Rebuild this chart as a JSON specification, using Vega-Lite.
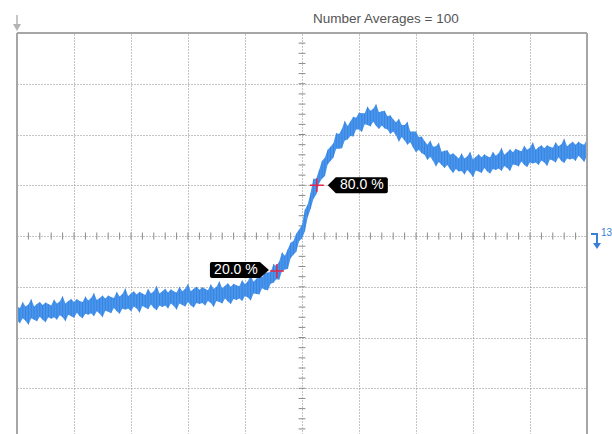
{
  "$schema": "https://vega.github.io/schema/vega-lite/v6.json",
  "width": 570,
  "height": 401,
  "autosize": {"type": "none"},
  "padding": {"left": 17, "top": 33, "right": 25, "bottom": 0},
  "background": "white",
  "config": {"view": {"stroke": null}},
  "datasets": {
    "trace": [
      {"x":0.00,"lo":-1.66,"hi":-1.39},{"x":0.05,"lo":-1.72,"hi":-1.42},{"x":0.10,"lo":-1.62,"hi":-1.30},{"x":0.15,"lo":-1.67,"hi":-1.39},{"x":0.20,"lo":-1.75,"hi":-1.35},
      {"x":0.25,"lo":-1.62,"hi":-1.24},{"x":0.30,"lo":-1.65,"hi":-1.39},{"x":0.35,"lo":-1.68,"hi":-1.34},{"x":0.40,"lo":-1.59,"hi":-1.30},{"x":0.45,"lo":-1.65,"hi":-1.36},
      {"x":0.50,"lo":-1.70,"hi":-1.31},{"x":0.55,"lo":-1.60,"hi":-1.34},{"x":0.60,"lo":-1.63,"hi":-1.37},{"x":0.65,"lo":-1.60,"hi":-1.25},{"x":0.70,"lo":-1.65,"hi":-1.33},
      {"x":0.75,"lo":-1.56,"hi":-1.29},{"x":0.80,"lo":-1.60,"hi":-1.18},{"x":0.85,"lo":-1.68,"hi":-1.33},{"x":0.90,"lo":-1.55,"hi":-1.28},{"x":0.95,"lo":-1.58,"hi":-1.24},
      {"x":1.00,"lo":-1.61,"hi":-1.30},{"x":1.05,"lo":-1.51,"hi":-1.24},{"x":1.10,"lo":-1.58,"hi":-1.28},{"x":1.15,"lo":-1.62,"hi":-1.30},{"x":1.20,"lo":-1.53,"hi":-1.19},
      {"x":1.25,"lo":-1.55,"hi":-1.27},{"x":1.30,"lo":-1.52,"hi":-1.22},{"x":1.35,"lo":-1.58,"hi":-1.12},{"x":1.40,"lo":-1.48,"hi":-1.26},{"x":1.45,"lo":-1.53,"hi":-1.22},
      {"x":1.50,"lo":-1.60,"hi":-1.17},{"x":1.55,"lo":-1.47,"hi":-1.23},{"x":1.60,"lo":-1.49,"hi":-1.17},{"x":1.65,"lo":-1.52,"hi":-1.20},{"x":1.70,"lo":-1.42,"hi":-1.22},
      {"x":1.75,"lo":-1.48,"hi":-1.10},{"x":1.80,"lo":-1.53,"hi":-1.19},{"x":1.85,"lo":-1.43,"hi":-1.14},{"x":1.90,"lo":-1.45,"hi":-1.03},{"x":1.95,"lo":-1.43,"hi":-1.18},
      {"x":2.00,"lo":-1.48,"hi":-1.13},{"x":2.05,"lo":-1.39,"hi":-1.09},{"x":2.10,"lo":-1.43,"hi":-1.15},{"x":2.15,"lo":-1.51,"hi":-1.10},{"x":2.20,"lo":-1.38,"hi":-1.13},
      {"x":2.25,"lo":-1.41,"hi":-1.16},{"x":2.30,"lo":-1.44,"hi":-1.04},{"x":2.35,"lo":-1.35,"hi":-1.13},{"x":2.40,"lo":-1.42,"hi":-1.09},{"x":2.45,"lo":-1.46,"hi":-0.98},
      {"x":2.50,"lo":-1.37,"hi":-1.13},{"x":2.55,"lo":-1.40,"hi":-1.09},{"x":2.60,"lo":-1.37,"hi":-1.04},{"x":2.65,"lo":-1.43,"hi":-1.11},{"x":2.70,"lo":-1.33,"hi":-1.05},
      {"x":2.75,"lo":-1.38,"hi":-1.09},{"x":2.80,"lo":-1.45,"hi":-1.11},{"x":2.85,"lo":-1.33,"hi":-1.00},{"x":2.90,"lo":-1.36,"hi":-1.09},{"x":2.95,"lo":-1.39,"hi":-1.04},
      {"x":3.00,"lo":-1.30,"hi":-0.94},{"x":3.05,"lo":-1.37,"hi":-1.09},{"x":3.10,"lo":-1.41,"hi":-1.04},{"x":3.15,"lo":-1.32,"hi":-1.00},{"x":3.20,"lo":-1.34,"hi":-1.06},
      {"x":3.25,"lo":-1.32,"hi":-1.01},{"x":3.30,"lo":-1.37,"hi":-1.04},{"x":3.35,"lo":-1.28,"hi":-1.07},{"x":3.40,"lo":-1.32,"hi":-0.95},{"x":3.45,"lo":-1.40,"hi":-1.04},
      {"x":3.50,"lo":-1.28,"hi":-1.00},{"x":3.55,"lo":-1.30,"hi":-0.89},{"x":3.60,"lo":-1.33,"hi":-1.03},{"x":3.65,"lo":-1.23,"hi":-0.98},{"x":3.70,"lo":-1.29,"hi":-0.93},
      {"x":3.75,"lo":-1.34,"hi":-1.00},{"x":3.80,"lo":-1.24,"hi":-0.94},{"x":3.85,"lo":-1.26,"hi":-0.97},{"x":3.90,"lo":-1.23,"hi":-0.99},{"x":3.95,"lo":-1.28,"hi":-0.87},
      {"x":4.00,"lo":-1.18,"hi":-0.95},{"x":4.05,"lo":-1.21,"hi":-0.89},{"x":4.10,"lo":-1.27,"hi":-0.77},{"x":4.15,"lo":-1.13,"hi":-0.90},{"x":4.20,"lo":-1.14,"hi":-0.84},
      {"x":4.25,"lo":-1.15,"hi":-0.77},{"x":4.30,"lo":-1.03,"hi":-0.81},{"x":4.35,"lo":-1.06,"hi":-0.72},{"x":4.40,"lo":-1.07,"hi":-0.72},{"x":4.45,"lo":-0.94,"hi":-0.71},
      {"x":4.50,"lo":-0.92,"hi":-0.55},{"x":4.55,"lo":-0.85,"hi":-0.59},{"x":4.60,"lo":-0.86,"hi":-0.50},{"x":4.65,"lo":-0.69,"hi":-0.32},{"x":4.70,"lo":-0.66,"hi":-0.39},
      {"x":4.75,"lo":-0.65,"hi":-0.26},{"x":4.80,"lo":-0.44,"hi":-0.13},{"x":4.85,"lo":-0.37,"hi":-0.10},{"x":4.90,"lo":-0.31,"hi":0.05},{"x":4.95,"lo":-0.10,"hi":0.13},
      {"x":5.00,"lo":-0.05,"hi":0.22},{"x":5.05,"lo":0.09,"hi":0.52},{"x":5.10,"lo":0.37,"hi":0.62},{"x":5.15,"lo":0.53,"hi":0.85},{"x":5.20,"lo":0.73,"hi":1.13},
      {"x":5.25,"lo":0.82,"hi":1.13},{"x":5.30,"lo":1.04,"hi":1.30},{"x":5.35,"lo":1.13,"hi":1.48},{"x":5.40,"lo":1.18,"hi":1.54},{"x":5.45,"lo":1.41,"hi":1.70},
      {"x":5.50,"lo":1.48,"hi":1.76},{"x":5.55,"lo":1.54,"hi":1.83},{"x":5.60,"lo":1.72,"hi":2.03},{"x":5.65,"lo":1.72,"hi":2.01},{"x":5.70,"lo":1.73,"hi":2.11},
      {"x":5.75,"lo":1.88,"hi":2.27},{"x":5.80,"lo":1.90,"hi":2.17},{"x":5.85,"lo":1.97,"hi":2.26},{"x":5.90,"lo":1.96,"hi":2.35},{"x":5.95,"lo":2.10,"hi":2.33},
      {"x":6.00,"lo":2.10,"hi":2.43},{"x":6.05,"lo":2.05,"hi":2.42},{"x":6.10,"lo":2.20,"hi":2.42},{"x":6.15,"lo":2.19,"hi":2.55},{"x":6.20,"lo":2.16,"hi":2.47},
      {"x":6.25,"lo":2.25,"hi":2.51},{"x":6.30,"lo":2.17,"hi":2.60},{"x":6.35,"lo":2.11,"hi":2.44},{"x":6.40,"lo":2.18,"hi":2.46},{"x":6.45,"lo":2.12,"hi":2.47},
      {"x":6.50,"lo":2.10,"hi":2.36},{"x":6.55,"lo":2.01,"hi":2.38},{"x":6.60,"lo":2.06,"hi":2.30},{"x":6.65,"lo":1.98,"hi":2.24},{"x":6.70,"lo":1.86,"hi":2.31},
      {"x":6.75,"lo":1.95,"hi":2.19},{"x":6.80,"lo":1.88,"hi":2.19},{"x":6.85,"lo":1.80,"hi":2.25},{"x":6.90,"lo":1.85,"hi":2.06},{"x":6.95,"lo":1.74,"hi":2.06},
      {"x":7.00,"lo":1.65,"hi":2.06},{"x":7.05,"lo":1.70,"hi":1.95},{"x":7.10,"lo":1.63,"hi":1.96},{"x":7.15,"lo":1.60,"hi":1.87},{"x":7.20,"lo":1.50,"hi":1.80},
      {"x":7.25,"lo":1.56,"hi":1.88},{"x":7.30,"lo":1.48,"hi":1.76},{"x":7.35,"lo":1.37,"hi":1.77},{"x":7.40,"lo":1.46,"hi":1.84},{"x":7.45,"lo":1.40,"hi":1.66},
      {"x":7.50,"lo":1.34,"hi":1.68},{"x":7.55,"lo":1.40,"hi":1.69},{"x":7.60,"lo":1.31,"hi":1.60},{"x":7.65,"lo":1.24,"hi":1.63},{"x":7.70,"lo":1.32,"hi":1.58},
      {"x":7.75,"lo":1.27,"hi":1.53},{"x":7.80,"lo":1.28,"hi":1.63},{"x":7.85,"lo":1.21,"hi":1.53},{"x":7.90,"lo":1.30,"hi":1.57},{"x":7.95,"lo":1.24,"hi":1.66},
      {"x":8.00,"lo":1.16,"hi":1.51},{"x":8.05,"lo":1.29,"hi":1.56},{"x":8.10,"lo":1.27,"hi":1.61},{"x":8.15,"lo":1.24,"hi":1.55},{"x":8.20,"lo":1.34,"hi":1.61},
      {"x":8.25,"lo":1.27,"hi":1.57},{"x":8.30,"lo":1.23,"hi":1.55},{"x":8.35,"lo":1.32,"hi":1.66},{"x":8.40,"lo":1.30,"hi":1.58},{"x":8.45,"lo":1.33,"hi":1.63},
      {"x":8.50,"lo":1.28,"hi":1.74},{"x":8.55,"lo":1.38,"hi":1.60},{"x":8.60,"lo":1.34,"hi":1.65},{"x":8.65,"lo":1.28,"hi":1.71},{"x":8.70,"lo":1.41,"hi":1.65},
      {"x":8.75,"lo":1.40,"hi":1.72},{"x":8.80,"lo":1.37,"hi":1.69},{"x":8.85,"lo":1.47,"hi":1.67},{"x":8.90,"lo":1.40,"hi":1.78},{"x":8.95,"lo":1.36,"hi":1.70},
      {"x":9.00,"lo":1.45,"hi":1.74},{"x":9.05,"lo":1.43,"hi":1.85},{"x":9.10,"lo":1.45,"hi":1.70},{"x":9.15,"lo":1.40,"hi":1.75},{"x":9.20,"lo":1.49,"hi":1.79},
      {"x":9.25,"lo":1.45,"hi":1.73},{"x":9.30,"lo":1.38,"hi":1.79},{"x":9.35,"lo":1.51,"hi":1.76},{"x":9.40,"lo":1.49,"hi":1.74},{"x":9.45,"lo":1.45,"hi":1.85},
      {"x":9.50,"lo":1.55,"hi":1.77},{"x":9.55,"lo":1.48,"hi":1.81},{"x":9.60,"lo":1.44,"hi":1.92},{"x":9.65,"lo":1.53,"hi":1.77},{"x":9.70,"lo":1.51,"hi":1.82},
      {"x":9.75,"lo":1.53,"hi":1.86},{"x":9.80,"lo":1.48,"hi":1.80},{"x":9.85,"lo":1.58,"hi":1.86},{"x":9.90,"lo":1.53,"hi":1.82},{"x":9.95,"lo":1.46,"hi":1.80},
      {"x":10.00,"lo":1.58,"hi":1.91}
    ],
    "xt": [
      {"t":0.2},{"t":0.4},{"t":0.6},{"t":0.8},{"t":1.0},{"t":1.2},{"t":1.4},{"t":1.6},{"t":1.8},{"t":2.0},
      {"t":2.2},{"t":2.4},{"t":2.6},{"t":2.8},{"t":3.0},{"t":3.2},{"t":3.4},{"t":3.6},{"t":3.8},{"t":4.0},
      {"t":4.2},{"t":4.4},{"t":4.6},{"t":4.8},{"t":5.2},{"t":5.4},{"t":5.6},{"t":5.8},{"t":6.0},
      {"t":6.2},{"t":6.4},{"t":6.6},{"t":6.8},{"t":7.0},{"t":7.2},{"t":7.4},{"t":7.6},{"t":7.8},{"t":8.0},
      {"t":8.2},{"t":8.4},{"t":8.6},{"t":8.8},{"t":9.0},{"t":9.2},{"t":9.4},{"t":9.6},{"t":9.8}
    ],
    "yt": [
      {"t":-3.8},{"t":-3.6},{"t":-3.4},{"t":-3.2},{"t":-3.0},{"t":-2.8},{"t":-2.6},{"t":-2.4},{"t":-2.2},{"t":-2.0},
      {"t":-1.8},{"t":-1.6},{"t":-1.4},{"t":-1.2},{"t":-1.0},{"t":-0.8},{"t":-0.6},{"t":-0.4},{"t":-0.2},
      {"t":0.2},{"t":0.4},{"t":0.6},{"t":0.8},{"t":1.0},{"t":1.2},{"t":1.4},{"t":1.6},{"t":1.8},{"t":2.0},
      {"t":2.2},{"t":2.4},{"t":2.6},{"t":2.8},{"t":3.0},{"t":3.2},{"t":3.4},{"t":3.6},{"t":3.8}
    ],
    "low": [{"x":4.56,"y":-0.69,"label":"20.0 %"}],
    "high": [{"x":5.26,"y":1.0,"label":"80.0 %"}]
  },
  "layer": [
    {
      "data": {"name": "xt"},
      "mark": {"type": "rule", "color": "#8a8a8a", "strokeWidth": 1},
      "encoding": {
        "x": {"field": "t", "type": "quantitative",
          "scale": {"domain": [0, 10], "nice": false, "zero": false},
          "axis": {"orient": "top", "values": [1,2,3,4,5,6,7,8,9], "grid": true, "labels": false, "ticks": false, "domain": false, "title": null, "gridDash": [1, 2], "gridColor": "#8a8a8a", "gridWidth": 1}},
        "y": {"datum": -0.07, "type": "quantitative",
          "scale": {"domain": [-3.9, 4], "nice": false, "zero": false},
          "axis": {"values": [-3,-2,-1,0,1,2,3], "grid": true, "labels": false, "ticks": false, "domain": false, "title": null, "gridDash": [1, 2], "gridColor": "#8a8a8a", "gridWidth": 1}},
        "y2": {"datum": 0.07}
      }
    },
    {
      "data": {"name": "yt"},
      "mark": {"type": "rule", "color": "#8a8a8a", "strokeWidth": 1},
      "encoding": {
        "y": {"field": "t", "type": "quantitative"},
        "x": {"datum": 4.94, "type": "quantitative"},
        "x2": {"datum": 5.06}
      }
    },
    {
      "data": {"name": "trace"},
      "mark": {"type": "area", "color": "#4796f0", "opacity": 1},
      "encoding": {
        "x": {"field": "x", "type": "quantitative"},
        "y": {"field": "lo", "type": "quantitative"},
        "y2": {"field": "hi"}
      }
    },
    {
      "data": {"name": "trace"},
      "mark": {"type": "rule", "color": "#1d4f9e", "opacity": 0.28, "strokeWidth": 1},
      "encoding": {
        "x": {"field": "x", "type": "quantitative"},
        "y": {"field": "lo", "type": "quantitative"},
        "y2": {"field": "hi"}
      }
    },
    {
      "data": {"values": [{}]},
      "mark": {"type": "rule", "color": "#a6a6a6", "strokeWidth": 2},
      "encoding": {"x": {"datum": 0, "type": "quantitative"}, "x2": {"datum": 10}, "y": {"datum": 4, "type": "quantitative"}}
    },
    {
      "data": {"values": [{}]},
      "mark": {"type": "rule", "color": "#a6a6a6", "strokeWidth": 2},
      "encoding": {"x": {"datum": 0, "type": "quantitative"}, "y": {"datum": -3.9, "type": "quantitative"}, "y2": {"datum": 4}}
    },
    {
      "data": {"values": [{}]},
      "mark": {"type": "rule", "color": "#a6a6a6", "strokeWidth": 2},
      "encoding": {"x": {"datum": 10, "type": "quantitative"}, "y": {"datum": -3.9, "type": "quantitative"}, "y2": {"datum": 4}}
    },
    {
      "data": {"values": [{"x": 0, "y": 4, "label": "Number Averages =  100"}]},
      "layer": [
        {
          "mark": {"type": "point", "shape": "M-0.75,-18L0.75,-18L0.75,-8L-0.75,-8ZM-4,-9L4,-9L0,-2Z", "size": 4, "filled": true, "color": "#b4b4b4", "opacity": 1, "strokeWidth": 0},
          "encoding": {"x": {"field": "x", "type": "quantitative"}, "y": {"field": "y", "type": "quantitative"}}
        },
        {
          "mark": {"type": "text", "align": "left", "baseline": "alphabetic", "dx": 296, "dy": -10, "fontSize": 13.5, "font": "Liberation Sans", "color": "#555555"},
          "encoding": {"x": {"field": "x", "type": "quantitative"}, "y": {"field": "y", "type": "quantitative"}, "text": {"field": "label"}}
        }
      ]
    },
    {
      "data": {"values": [{"x": 10, "y": 0, "label": "13"}]},
      "layer": [
        {
          "mark": {"type": "point", "shape": "M4,-3L11,-3L11,8L9,8L9,-1L4,-1ZM6,7L14,7L10,13Z", "size": 4, "filled": true, "color": "#3a7fd6", "opacity": 1, "strokeWidth": 0},
          "encoding": {"x": {"field": "x", "type": "quantitative"}, "y": {"field": "y", "type": "quantitative"}}
        },
        {
          "mark": {"type": "text", "align": "left", "baseline": "middle", "dx": 14, "dy": -3, "fontSize": 10, "font": "Liberation Sans", "color": "#3a7fd6"},
          "encoding": {"x": {"field": "x", "type": "quantitative"}, "y": {"field": "y", "type": "quantitative"}, "text": {"field": "label"}}
        }
      ]
    },
    {
      "data": {"name": "low"},
      "layer": [
        {
          "mark": {"type": "point", "shape": "M-65,-9L-17,-9L-8,-1L-17,7L-65,7Q-67,7,-67,5L-67,-7Q-67,-9,-65,-9Z", "size": 4, "filled": true, "color": "#000000", "opacity": 1, "strokeWidth": 0},
          "encoding": {"x": {"field": "x", "type": "quantitative"}, "y": {"field": "y", "type": "quantitative"}}
        },
        {
          "mark": {"type": "text", "align": "center", "baseline": "middle", "dx": -41, "dy": -1, "fontSize": 14, "font": "Liberation Sans", "color": "#ffffff"},
          "encoding": {"x": {"field": "x", "type": "quantitative"}, "y": {"field": "y", "type": "quantitative"}, "text": {"field": "label"}}
        },
        {
          "mark": {"type": "point", "shape": "M-7,0L7,0M0,-7L0,7", "size": 4, "filled": false, "color": "#e3264a", "opacity": 1, "strokeWidth": 1.5},
          "encoding": {"x": {"field": "x", "type": "quantitative"}, "y": {"field": "y", "type": "quantitative"}}
        }
      ]
    },
    {
      "data": {"name": "high"},
      "layer": [
        {
          "mark": {"type": "point", "shape": "M11,0L19,-8L69,-8Q71,-8,71,-6L71,6Q71,8,69,8L19,8Z", "size": 4, "filled": true, "color": "#000000", "opacity": 1, "strokeWidth": 0},
          "encoding": {"x": {"field": "x", "type": "quantitative"}, "y": {"field": "y", "type": "quantitative"}}
        },
        {
          "mark": {"type": "text", "align": "center", "baseline": "middle", "dx": 45, "dy": 0, "fontSize": 14, "font": "Liberation Sans", "color": "#ffffff"},
          "encoding": {"x": {"field": "x", "type": "quantitative"}, "y": {"field": "y", "type": "quantitative"}, "text": {"field": "label"}}
        },
        {
          "mark": {"type": "point", "shape": "M-7,0L7,0M0,-7L0,7", "size": 4, "filled": false, "color": "#e3264a", "opacity": 1, "strokeWidth": 1.5},
          "encoding": {"x": {"field": "x", "type": "quantitative"}, "y": {"field": "y", "type": "quantitative"}}
        }
      ]
    }
  ]
}
